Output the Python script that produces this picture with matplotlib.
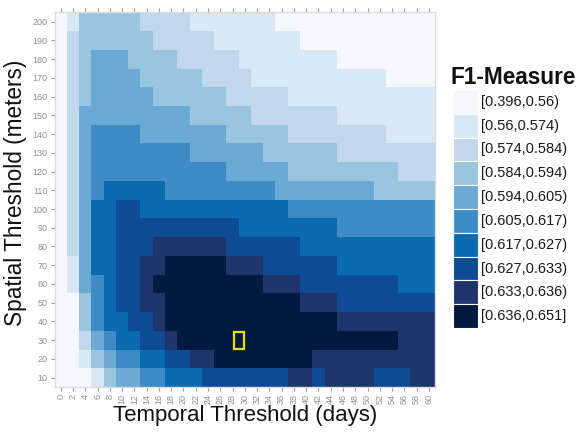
import numpy as np
import matplotlib
matplotlib.use("Agg")
import matplotlib.pyplot as plt
from matplotlib.colors import ListedColormap, BoundaryNorm
from matplotlib.patches import Rectangle

plt.rcParams['font.family'] = ['Liberation Sans', 'DejaVu Sans']

# ---- data ----
temporal_days = list(range(0, 61, 2))          # x categories
spatial_m = list(range(10, 201, 10))           # y categories
legend_labels = ["[0.396,0.56)", "[0.56,0.574)", "[0.574,0.584)", "[0.584,0.594)",
                 "[0.594,0.605)", "[0.605,0.617)", "[0.617,0.627)", "[0.627,0.633)",
                 "[0.633,0.636)", "[0.636,0.651]"]
bin_colors = ["#f5f9fe", "#dae7f4", "#c0d7ec", "#9ac5e0", "#6aaad4",
              "#3f8bc5", "#0b6bb0", "#0e4b94", "#1f346a", "#03193e"]

# F1 class (index into legend_labels) per cell; rows from spatial 200 down to 10
row_200 = [0,1,3,3,3,3,3,2,2,2,2,1,1,1,1,1,1,1,0,0,0,0,0,0,0,0,0,0,0,0,0]
row_190 = [0,2,3,3,3,3,3,3,2,2,2,2,2,1,1,1,1,1,1,1,0,0,0,0,0,0,0,0,0,0,0]
row_180 = [0,2,3,4,4,4,3,3,3,3,2,2,2,2,2,1,1,1,1,1,1,1,1,0,0,0,0,0,0,0,0]
row_170 = [0,2,3,4,4,4,4,3,3,3,3,3,2,2,2,2,1,1,1,1,1,1,1,1,1,1,1,0,0,0,0]
row_160 = [0,2,3,4,4,4,4,4,3,3,3,3,3,3,2,2,2,2,2,1,1,1,1,1,1,1,1,1,1,1,1]
row_150 = [0,2,4,4,4,4,4,4,4,4,4,3,3,3,3,3,2,2,2,2,2,2,2,1,1,1,1,1,1,1,1]
row_140 = [0,2,4,5,5,5,5,4,4,4,4,4,4,4,3,3,3,3,3,2,2,2,2,2,2,2,2,1,1,1,1]
row_130 = [0,2,4,5,5,5,5,5,5,5,5,4,4,4,4,4,4,3,3,3,3,3,3,2,2,2,2,2,2,2,2]
row_120 = [0,2,4,5,5,5,5,5,5,5,5,5,5,5,4,4,4,4,4,3,3,3,3,3,3,3,3,3,2,2,2]
row_110 = [0,2,4,5,6,6,6,6,6,5,5,5,5,5,5,5,5,5,4,4,4,4,4,4,4,4,3,3,3,3,3]
row_100 = [0,2,4,6,6,7,7,6,6,6,6,6,6,6,6,6,6,6,6,5,5,5,5,5,5,5,5,5,5,5,5]
row_90  = [0,2,4,6,6,7,7,7,7,7,7,7,7,7,7,6,6,6,6,6,6,6,6,5,5,5,5,5,5,5,5]
row_80  = [0,2,4,6,6,7,7,7,8,8,8,8,8,8,7,7,7,7,7,7,6,6,6,6,6,6,6,6,6,6,6]
row_70  = [0,1,4,6,6,7,7,8,8,9,9,9,9,9,8,8,8,7,7,7,7,7,7,6,6,6,6,6,6,6,6]
row_60  = [0,1,4,5,6,7,7,8,9,9,9,9,9,9,9,9,9,8,8,8,7,7,7,7,7,7,7,7,6,6,6]
row_50  = [0,0,3,5,6,7,7,8,8,9,9,9,9,9,9,9,9,9,9,9,8,8,8,7,7,7,7,7,7,7,7]
row_40  = [0,0,3,5,6,6,7,7,8,9,9,9,9,9,9,9,9,9,9,9,9,9,9,8,8,8,8,8,8,8,8]
row_30  = [0,0,2,4,5,6,6,7,7,8,9,9,9,9,9,9,9,9,9,9,9,9,9,9,9,9,9,9,8,8,8]
row_20  = [0,0,1,3,4,5,5,6,6,7,7,8,8,9,9,9,9,9,9,9,9,8,8,8,8,8,8,8,8,8,8]
row_10  = [0,0,0,1,3,4,4,5,5,6,6,6,7,7,7,7,7,7,7,8,8,7,8,8,8,8,7,7,7,8,8]

best_temporal = 29   # highlighted cell (days)
best_spatial = 30    # highlighted cell (meters)

rows_top_down = [row_200, row_190, row_180, row_170, row_160, row_150, row_140,
                 row_130, row_120, row_110, row_100, row_90, row_80, row_70,
                 row_60, row_50, row_40, row_30, row_20, row_10]
for r in rows_top_down:
    assert len(r) == len(temporal_days)
grid = np.array(rows_top_down[::-1])  # bottom row = 10 m

# ---- figure ----
W, H = 581, 432
fig = plt.figure(figsize=(W / 100, H / 100), dpi=100)
L, R, T, B = 54.6, 435.0, 12.3, 387.0
ax = fig.add_axes([L / W, 1 - B / H, (R - L) / W, (B - T) / H])

cmap = ListedColormap(bin_colors)
norm = BoundaryNorm(np.arange(-0.5, len(bin_colors)), cmap.N)
nx, ny = len(temporal_days), len(spatial_m)
ax.pcolormesh(np.arange(nx + 1) - 0.5, np.arange(ny + 1) - 0.5, grid,
              cmap=cmap, norm=norm, shading='flat')

# highlight box
xi = temporal_days.index(28) + (best_temporal - 28) / 2.0
yi = spatial_m.index(best_spatial)
ax.add_patch(Rectangle((xi - 0.42, yi - 0.45), 0.84, 0.9, fill=False,
                       edgecolor='#e8e000', linewidth=1.6, zorder=5))

ax.set_xlim(-0.5, nx - 0.5)
ax.set_ylim(-0.5, ny - 0.5)
ax.set_xticks(range(nx))
ax.set_xticklabels([str(v) for v in temporal_days], rotation=90,
                   fontsize=6.5, color='#8f8f8f')
ax.set_yticks(range(ny))
ax.set_yticklabels([str(v) for v in spatial_m], fontsize=6.5, color='#8f8f8f')
ax.tick_params(axis='both', which='both', length=3, width=0.8, color='#9a9a9a', pad=2)
ax.tick_params(axis='x', top=True, direction='out')
for s in ax.spines.values():
    s.set_color('#dcdcdc')
    s.set_linewidth(1.0)

fig.text(245 / W, 1 - 415 / H, "Temporal Threshold (days)", ha='center', va='center',
         fontsize=16, color='#111111')
fig.text(15.5 / W, 1 - 193 / H, "Spatial Threshold (meters)", ha='center', va='center',
         rotation=90, fontsize=16.3, color='#111111')

# ---- legend ----
fig.text(451 / W, 1 - 77 / H, "F1-Measure", ha='left', va='center',
         fontsize=16.3, fontweight='bold', color='#111111')
key_x, key_w, key_top, key_h = 453, 24.5, 90, 23.8
for i, (lab, col) in enumerate(zip(legend_labels, bin_colors)):
    y0 = key_top + i * key_h
    fig.patches.append(Rectangle((key_x / W, 1 - (y0 + key_h) / H), key_w / W, key_h / H,
                                 transform=fig.transFigure, facecolor=col,
                                 edgecolor='white', linewidth=0.8))
    fig.text(481 / W, 1 - (y0 + key_h / 2) / H, lab, ha='left', va='center',
             fontsize=10.5, color='#1a1a1a')

fig.savefig("out.png", dpi=100)
